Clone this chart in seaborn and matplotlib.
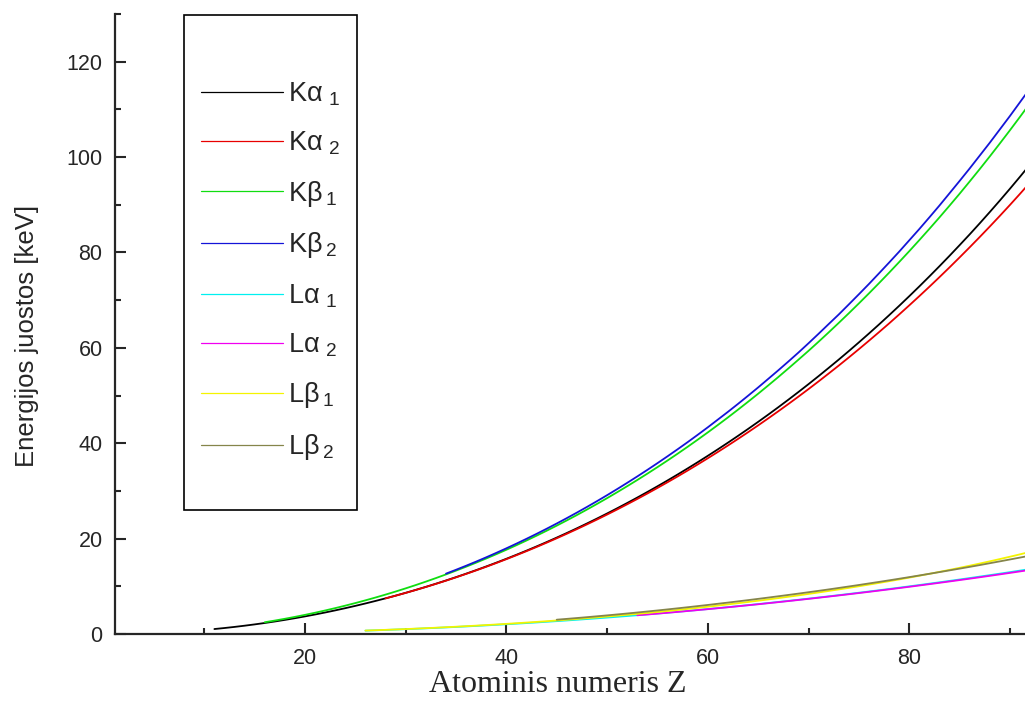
import matplotlib
matplotlib.use("Agg")
import matplotlib.pyplot as plt
from matplotlib.lines import Line2D
from matplotlib.patches import Rectangle
from matplotlib.ticker import MultipleLocator
import pandas as pd
import seaborn as sns

# X-ray emission line energies (keV) as a function of atomic number Z
Z_KA1 = list(range(11, 93))
KA1 = [1.041, 1.254, 1.487, 1.740, 2.014, 2.308, 2.622, 2.958, 3.314, 3.692,
       4.091, 4.511, 4.952, 5.415, 5.899, 6.404, 6.930, 7.478, 8.048, 8.639,
       9.252, 9.886, 10.544, 11.222, 11.924, 12.649, 13.395, 14.165, 14.958, 15.775,
       16.615, 17.479, 18.367, 19.279, 20.216, 21.177, 22.163, 23.174, 24.210, 25.271,
       26.359, 27.472, 28.612, 29.779, 30.973, 32.194, 33.442, 34.720, 36.026, 37.361,
       38.725, 40.118, 41.542, 42.996, 44.482, 45.998, 47.547, 49.128, 50.742, 52.389,
       54.070, 55.790, 57.532, 59.318, 61.140, 63.001, 64.896, 66.832, 68.804, 70.819,
       72.872, 74.969, 77.108, 79.290, 81.520, 83.780, 86.100, 88.470, 90.884, 93.350,
       95.868, 98.439]

Z_KA2 = list(range(28, 93))
KA2 = [7.461, 8.028, 8.616, 9.225, 9.855, 10.508, 11.181, 11.878, 12.598, 13.336,
       14.098, 14.883, 15.691, 16.521, 17.374, 18.251, 19.150, 20.074, 21.020, 21.990,
       22.984, 24.002, 25.044, 26.111, 27.202, 28.317, 29.458, 30.625, 31.817, 33.034,
       34.279, 35.550, 36.847, 38.171, 39.522, 40.902, 42.309, 43.744, 45.208, 46.700,
       48.221, 49.773, 51.354, 52.965, 54.611, 56.277, 57.982, 59.718, 61.487, 63.287,
       65.112, 66.990, 68.895, 70.832, 72.804, 74.815, 76.862, 78.950, 81.070, 83.230,
       85.430, 87.670, 89.953, 92.287, 94.665]

Z_KB1 = list(range(16, 93))
KB1 = [2.464, 2.816, 3.191, 3.590, 4.013, 4.461, 4.932, 5.427, 5.947, 6.490,
       7.058, 7.649, 8.265, 8.905, 9.572, 10.264, 10.982, 11.726, 12.496, 13.291,
       14.112, 14.961, 15.836, 16.738, 17.668, 18.623, 19.608, 20.619, 21.657, 22.724,
       23.819, 24.942, 26.096, 27.276, 28.486, 29.726, 30.996, 32.295, 33.624, 34.987,
       36.378, 37.801, 39.257, 40.748, 42.271, 43.826, 45.413, 47.038, 48.697, 50.382,
       52.119, 53.877, 55.681, 57.517, 59.370, 61.283, 63.234, 65.223, 67.244, 69.310,
       71.413, 73.561, 75.748, 77.984, 80.253, 82.576, 84.936, 87.343, 89.800, 92.300,
       94.870, 97.470, 100.130, 102.850, 105.609, 108.427, 111.300]

Z_KB2 = list(range(34, 93))
KB2 = [12.652, 13.469, 14.315, 15.185, 16.085, 17.015, 17.970, 18.953, 19.965, 21.005,
       22.074, 23.172, 24.299, 25.456, 26.644, 27.860, 29.109, 30.389, 31.700, 33.042,
       34.415, 35.822, 37.260, 38.730, 40.230, 41.770, 43.340, 44.960, 46.580, 48.250,
       49.960, 51.700, 53.490, 55.290, 57.130, 59.010, 60.960, 62.950, 64.980, 66.990,
       69.100, 71.230, 73.390, 75.620, 77.870, 80.160, 82.530, 84.900, 87.350, 89.830,
       92.400, 94.980, 97.600, 100.300, 103.000, 105.800, 108.600, 111.500, 114.400]

Z_LA1 = list(range(26, 93))
LA1 = [0.705, 0.776, 0.852, 0.930, 1.012, 1.098, 1.188, 1.282, 1.379, 1.480,
       1.586, 1.694, 1.807, 1.923, 2.042, 2.166, 2.293, 2.424, 2.559, 2.697,
       2.839, 2.984, 3.134, 3.287, 3.444, 3.605, 3.769, 3.938, 4.110, 4.287,
       4.466, 4.651, 4.840, 5.034, 5.230, 5.433, 5.636, 5.846, 6.057, 6.273,
       6.495, 6.720, 6.949, 7.180, 7.416, 7.656, 7.899, 8.146, 8.398, 8.653,
       8.912, 9.175, 9.442, 9.713, 9.989, 10.269, 10.552, 10.839, 11.131, 11.427,
       11.727, 12.031, 12.340, 12.652, 12.969, 13.291, 13.615]

Z_LA2 = list(range(53, 93))
LA2 = [3.926, 4.098, 4.272, 4.451, 4.634, 4.823, 5.014, 5.208, 5.408, 5.609,
       5.817, 6.025, 6.238, 6.458, 6.680, 6.905, 7.133, 7.367, 7.605, 7.845,
       8.088, 8.335, 8.586, 8.841, 9.100, 9.362, 9.628, 9.898, 10.173, 10.450,
       10.731, 11.016, 11.305, 11.598, 11.895, 12.196, 12.501, 12.810, 13.122, 13.439]

Z_LB1 = list(range(26, 93))
LB1 = [0.719, 0.791, 0.869, 0.950, 1.035, 1.125, 1.219, 1.317, 1.419, 1.526,
       1.637, 1.752, 1.872, 1.996, 2.124, 2.257, 2.395, 2.538, 2.683, 2.834,
       2.990, 3.151, 3.317, 3.487, 3.663, 3.844, 4.030, 4.221, 4.418, 4.620,
       4.828, 5.042, 5.262, 5.489, 5.722, 5.961, 6.205, 6.456, 6.713, 6.978,
       7.248, 7.525, 7.811, 8.101, 8.402, 8.709, 9.023, 9.343, 9.672, 10.010,
       10.355, 10.708, 11.071, 11.442, 11.823, 12.213, 12.614, 13.024, 13.447, 13.876,
       14.316, 14.770, 15.236, 15.713, 16.202, 16.702, 17.220]

Z_LB2 = list(range(45, 93))
LB2 = [3.001, 3.172, 3.348, 3.528, 3.714, 3.905, 4.101, 4.302, 4.508, 4.720,
       4.936, 5.157, 5.384, 5.613, 5.850, 6.089, 6.339, 6.586, 6.843, 7.103,
       7.367, 7.636, 7.911, 8.189, 8.468, 8.759, 9.049, 9.347, 9.652, 9.962,
       10.275, 10.599, 10.920, 11.251, 11.585, 11.924, 12.272, 12.623, 12.980, 13.340,
       13.705, 14.075, 14.450, 14.841, 15.230, 15.624, 16.024, 16.428]

LABELS = ["K\u03b1$\\;_1$", "K\u03b1$\\;_2$", "K\u03b2$\\,_1$", "K\u03b2$\\,_2$",
          "L\u03b1$\\;_1$", "L\u03b1$\\;_2$", "L\u03b2$\\,_1$", "L\u03b2$\\,_2$"]
COLORS = ["#000000", "#e80000", "#10dd10", "#1414d8",
          "#00f0f0", "#f000f0", "#f4f400", "#85854a"]
SERIES = [(Z_KA1, KA1), (Z_KA2, KA2), (Z_KB1, KB1), (Z_KB2, KB2),
          (Z_LA1, LA1), (Z_LA2, LA2), (Z_LB1, LB1), (Z_LB2, LB2)]

X_MAJOR = [20, 40, 60, 80]
Y_MAJOR = [0, 20, 40, 60, 80, 100, 120]

sns.set_style("ticks")
plt.rcParams["font.family"] = ["Liberation Sans", "DejaVu Sans"]
plt.rcParams["mathtext.fontset"] = "custom"
plt.rcParams["mathtext.rm"] = "Liberation Sans"
plt.rcParams["mathtext.it"] = "Liberation Sans"

fig = plt.figure(figsize=(10.25, 7.07), dpi=100)
ax = fig.add_axes([115 / 1025, 1 - 634 / 707, 910 / 1025, 620 / 707])

frames = []
for (z, e), lab in zip(SERIES, LABELS):
    assert len(z) == len(e)
    frames.append(pd.DataFrame({"Z": z, "E": e, "line": lab}))
df = pd.concat(frames, ignore_index=True)

sns.lineplot(data=df, x="Z", y="E", hue="line", hue_order=LABELS,
             palette=dict(zip(LABELS, COLORS)), linewidth=1.3,
             legend=False, ax=ax)

ax.set_xlim(1.13, 91.5)
ax.set_ylim(0, 130)
ax.set_xticks(X_MAJOR)
ax.set_yticks(Y_MAJOR)
ax.xaxis.set_minor_locator(MultipleLocator(10))
ax.yaxis.set_minor_locator(MultipleLocator(10))
ax.tick_params(which="both", direction="in", width=1.5, labelsize=15.5)
ax.tick_params(which="major", length=8)
ax.tick_params(which="minor", length=4.5)
ax.tick_params(axis="y", pad=9)
ax.tick_params(axis="x", pad=10)
sns.despine(ax=ax)
for side in ("left", "bottom"):
    ax.spines[side].set_linewidth(1.6)

ax.set_xlabel("Atominis numeris Z", fontfamily="Liberation Serif", fontsize=23)
ax.xaxis.set_label_coords(0.486, -0.058)
ax.set_ylabel("Energijos juostos [keV]", fontsize=18.5)
ax.yaxis.set_label_coords(-0.083, 0.481)

handles = [Line2D([], [], color=c, lw=0.9) for c in COLORS]
leg = ax.legend(handles, LABELS, loc="upper left",
                bbox_to_anchor=(0.094, 0.893), frameon=False,
                fontsize=19.5, handlelength=3.05, handletextpad=0.18,
                labelspacing=0.8, borderpad=0, borderaxespad=0)

ax.add_patch(Rectangle((0.0758, 0.2), 0.190, 0.798, transform=ax.transAxes,
                       fill=False, edgecolor="black", linewidth=1.2,
                       clip_on=False, zorder=5))

fig.savefig("out.png", dpi=100)
